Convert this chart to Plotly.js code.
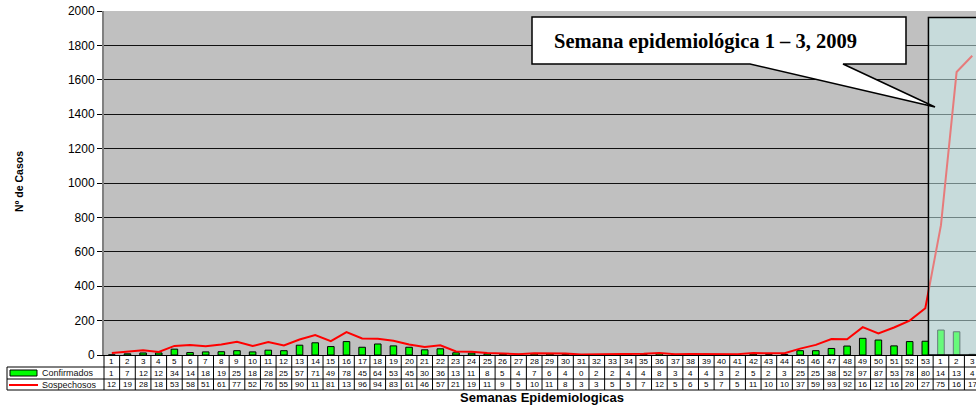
<!DOCTYPE html>
<html>
<head>
<meta charset="utf-8">
<script src="https://cdn.plot.ly/plotly-3.0.1.min.js"></script>
<style>
html,body{margin:0;padding:0;background:#fff;overflow:hidden;}
#chart{width:976px;height:407px;}
</style>
</head>
<body>
<div id="chart"></div>
<script>
// ---- Data ----
var weekLabels = ["1","2","3","4","5","6","7","8","9","10","11","12","13","14","15","16","17","18","19","20",
  "21","22","23","24","25","26","27","28","29","30","31","32","33","34","35","36","37","38","39","40",
  "41","42","43","44","45","46","47","48","49","50","51","52","53","1","2","3"];
var confirmados = [1,7,12,12,34,14,18,19,25,18,28,25,57,71,49,78,45,64,53,45,
  30,36,13,11,8,5,4,7,6,4,0,2,2,4,4,8,3,4,4,3,
  2,5,2,3,25,25,38,52,97,87,53,78,80,145,135,4];
var sospechosos = [12,19,28,18,53,58,51,61,77,52,76,55,90,116,81,133,96,94,83,61,
  46,57,21,19,11,9,5,10,11,8,3,3,5,5,7,12,5,6,5,7,
  5,11,10,10,37,59,93,92,162,125,160,200,272,755,1645,1740];
var seriesNames = ["Confirmados","Sospechosos"];
var yTitle = "Nº de Casos";
var xTitle = "Semanas Epidemiologicas";
var calloutText = "Semana epidemiológica 1 – 3, 2009";

// ---- Geometry helpers (layout only) ----
var W = 976, H = 407, ML = 104, MR = 0, MT = 11, MB = 52;
var PW = W - ML - MR, PH = H - MT - MB;
function px(x){ return (x - ML) / PW; }
function py(y){ return (H - MB - y) / PH; }
// Excel's narrow cells clip numbers to the first two digits
function cellText(v){ return String(v).slice(0,2); }

var xIdx = weekLabels.map(function(_, i){ return i; });
var FONT = "Liberation Sans, Arial, sans-serif";

var traces = [
  {type:'bar', x:xIdx, y:confirmados, name:seriesNames[0], width:0.42,
   marker:{color:'#00ff00', line:{color:'#000', width:1}}},
  {type:'scatter', mode:'lines', x:xIdx, y:sospechosos, name:seriesNames[1],
   line:{color:'#ff0000', width:2}}
];

var ann = [];
var rowY = [py(361), py(373), py(384.5)];
weekLabels.forEach(function(lbl, i){
  ann.push({x:i, xref:'x', y:rowY[0], yref:'paper', text:lbl, showarrow:false,
    font:{family:FONT, size:8, color:'#000'}, xanchor:'center', yanchor:'middle'});
  ann.push({x:i, xref:'x', y:rowY[1], yref:'paper', text:cellText(confirmados[i]), showarrow:false,
    font:{family:FONT, size:8, color:'#000'}, xanchor:'center', yanchor:'middle'});
  ann.push({x:i, xref:'x', y:rowY[2], yref:'paper', text:cellText(sospechosos[i]), showarrow:false,
    font:{family:FONT, size:8, color:'#000'}, xanchor:'center', yanchor:'middle'});
});
ann.push({x:px(40), xref:'paper', y:rowY[1], yref:'paper', text:seriesNames[0], showarrow:false,
  font:{family:FONT, size:9, color:'#111'}, xanchor:'left', yanchor:'middle'});
ann.push({x:px(40), xref:'paper', y:rowY[2], yref:'paper', text:seriesNames[1], showarrow:false,
  font:{family:FONT, size:9, color:'#111'}, xanchor:'left', yanchor:'middle'});
ann.push({x:px(542), xref:'paper', y:py(397), yref:'paper', text:'<b>'+xTitle+'</b>', showarrow:false,
  font:{family:FONT, size:13, color:'#000'}, xanchor:'center', yanchor:'middle'});
ann.push({x:px(19), xref:'paper', y:py(182), yref:'paper', text:'<b>'+yTitle+'</b>', showarrow:false,
  textangle:-90, font:{family:FONT, size:10.5, color:'#000'}, xanchor:'center', yanchor:'middle'});
ann.push({x:px(705), xref:'paper', y:py(41), yref:'paper', text:'<b>'+calloutText+'</b>', showarrow:false,
  font:{family:"Liberation Serif, 'Times New Roman', serif", size:20.5, color:'#000'}, xanchor:'center', yanchor:'middle'});

var shapes = [];
var tblLine = {color:'#000', width:1};
// horizontal table lines
[367, 379, 390].forEach(function(y){
  shapes.push({type:'line', xref:'paper', yref:'paper', x0:px(7), x1:1.02, y0:py(y), y1:py(y), line:tblLine});
});
// vertical table lines
for (var i = 0; i < weekLabels.length - 1; i++){
  shapes.push({type:'line', xref:'x', yref:'paper', x0:i+0.5, x1:i+0.5, y0:0, y1:py(390), line:tblLine});
}
shapes.push({type:'line', xref:'paper', yref:'paper', x0:0, x1:0, y0:0, y1:py(390), line:tblLine});
shapes.push({type:'line', xref:'paper', yref:'paper', x0:px(7), x1:px(7), y0:py(367), y1:py(390), line:tblLine});
// legend swatches
shapes.push({type:'rect', xref:'paper', yref:'paper', x0:px(10), x1:px(37), y0:py(370), y1:py(376),
  fillcolor:'#00ff00', line:{color:'#000', width:1}});
shapes.push({type:'line', xref:'paper', yref:'paper', x0:px(9), x1:px(38), y0:py(385), y1:py(385),
  line:{color:'#ff0000', width:2}});
// highlighted 2009 region
shapes.push({type:'rect', xref:'x', yref:'y', x0:52.2, x1:57, y0:0, y1:1962, layer:'above',
  fillcolor:'rgba(205,245,245,0.5)', line:{color:'#000', width:1.5}});
// callout box with pointer
var pts = [[532,17],[906,17],[906,64],[843,64],[935,107],[750,64],[532,64]];
var path = pts.map(function(p, k){ return (k ? 'L' : 'M') + px(p[0]).toFixed(5) + ',' + py(p[1]).toFixed(5); }).join(' ') + ' Z';
shapes.push({type:'path', xref:'paper', yref:'paper', path:path, layer:'above',
  fillcolor:'#fff', line:{color:'#000', width:1.5}});

var layout = {
  width:W, height:H,
  margin:{l:ML, r:MR, t:MT, b:MB, pad:0},
  paper_bgcolor:'#fff', plot_bgcolor:'#c0c0c0',
  showlegend:false,
  font:{family:FONT, size:12, color:'#000'},
  xaxis:{range:[-0.5, 55.24], showticklabels:false, ticks:'', showgrid:false, zeroline:false,
    showline:true, linecolor:'#000', linewidth:1, fixedrange:true},
  yaxis:{range:[0,2000], dtick:200, ticks:'outside', ticklen:5, tickcolor:'#000',
    showline:true, linecolor:'#808080', linewidth:2, gridcolor:'#111', gridwidth:1,
    zeroline:false, tickfont:{family:FONT, size:12, color:'#000'}, fixedrange:true},
  bargap:0,
  annotations:ann,
  shapes:shapes
};

Plotly.newPlot('chart', traces, layout, {displayModeBar:false, staticPlot:true});
</script>
</body>
</html>
